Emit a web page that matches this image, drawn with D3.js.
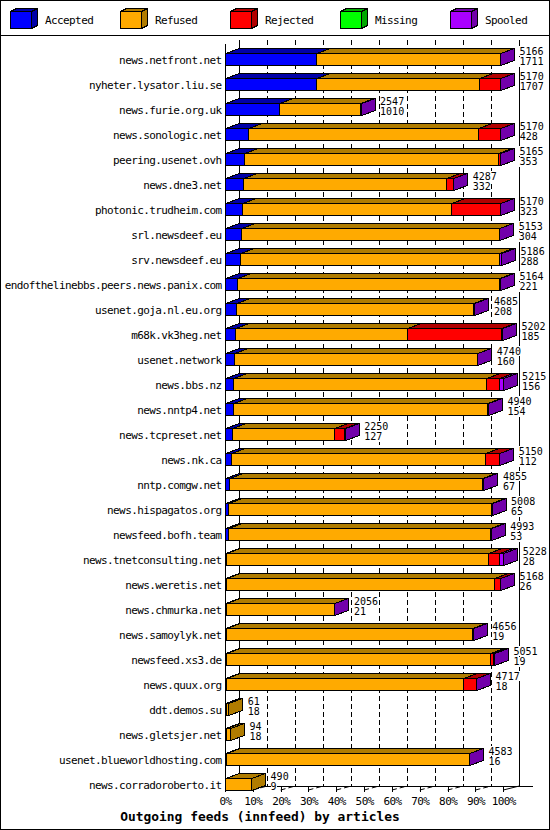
<!DOCTYPE html>
<html>
<head>
<meta charset="utf-8">
<script src="https://cdn.jsdelivr.net/npm/d3@7"></script>
<style>
  body { margin: 0; background: #fff; }
  text { font-family: "DejaVu Sans Mono", monospace; font-size: 11px; letter-spacing: -0.6px; fill: #000; }
  .val { font-size: 10px; letter-spacing: 0px; }
  .title { font-weight: bold; font-size: 12.9px; letter-spacing: 0px; }
</style>
</head>
<body>
<script>
// outgoing feeds, one row per peer (sorted by accepted)
var hosts = ["news.netfront.net", "nyheter.lysator.liu.se", "news.furie.org.uk", "news.sonologic.net",
  "peering.usenet.ovh", "news.dne3.net", "photonic.trudheim.com", "srl.newsdeef.eu", "srv.newsdeef.eu",
  "endofthelinebbs.peers.news.panix.com", "usenet.goja.nl.eu.org", "m68k.vk3heg.net", "usenet.network",
  "news.bbs.nz", "news.nntp4.net", "news.tcpreset.net", "news.nk.ca", "nntp.comgw.net",
  "news.hispagatos.org", "newsfeed.bofh.team", "news.tnetconsulting.net", "news.weretis.net",
  "news.chmurka.net", "news.samoylyk.net", "newsfeed.xs3.de", "news.quux.org", "ddt.demos.su",
  "news.gletsjer.net", "usenet.blueworldhosting.com", "news.corradoroberto.it"];
var totals   = [5166, 5170, 2547, 5170, 5165, 4287, 5170, 5153, 5186, 5164, 4685, 5202, 4740, 5215, 4940,
  2250, 5150, 4855, 5008, 4993, 5228, 5168, 2056, 4656, 5051, 4717, 61, 94, 4583, 490];
var accepted = [1711, 1707, 1010, 428, 353, 332, 323, 304, 288, 221, 208, 185, 160, 156, 154,
  127, 112, 67, 65, 53, 28, 26, 21, 19, 19, 18, 18, 18, 16, 9];
var refused  = [3447, 3065, 1531, 4334, 4769, 3822, 3929, 4841, 4858, 4935, 4454, 3237, 4572, 4746, 4766,
  1927, 4773, 4765, 4935, 4932, 4920, 5027, 2027, 4617, 4955, 4453, 43, 76, 4559, 481];
var rejected = [0, 390, 0, 400, 35, 125, 910, 0, 0, 0, 15, 1755, 0, 238, 12,
  188, 257, 15, 0, 0, 200, 107, 0, 12, 69, 238, 0, 0, 0, 0];
var missing  = [0, 0, 0, 0, 0, 0, 0, 0, 0, 0, 0, 0, 0, 0, 0,
  0, 0, 0, 0, 0, 0, 0, 0, 0, 0, 0, 0, 0, 0, 0];
var spooled  = [8, 8, 6, 8, 8, 8, 8, 8, 40, 8, 8, 25, 8, 75, 8,
  8, 8, 8, 8, 8, 80, 8, 8, 8, 8, 8, 0, 0, 8, 0];
var seriesNames = ["Accepted", "Refused", "Rejected", "Missing", "Spooled"];
var pctTicks = [0, 10, 20, 30, 40, 50, 60, 70, 80, 90, 100];
var titleText = "Outgoing feeds (innfeed) by articles";

var frontColor = {"Accepted": "#0000ff", "Refused": "#ffaa00", "Rejected": "#ff0000", "Missing": "#00ff00", "Spooled": "#aa00ff"};
var darkColor  = {"Accepted": "#0000a8", "Refused": "#b07c00", "Rejected": "#b00000", "Missing": "#00a800", "Spooled": "#7200aa"};

var W = 550, H = 830;
var DX = 14, DY = 5, FH = 12;   // 3d depth and front height
function px(v) { return Math.round(v) + 0.5; }

var svg = d3.select("body").append("svg")
        .attr("width", W)
        .attr("height", H)
        .attr("shape-rendering", "crispEdges");

svg.append("rect").attr("x", 0.5).attr("y", 0.5).attr("width", W - 1).attr("height", H - 1)
        .attr("fill", "#fff").attr("stroke", "#000");
svg.append("line").attr("x1", 0).attr("x2", W).attr("y1", 35.5).attr("y2", 35.5).attr("stroke", "#000");

// legend
var legend = svg.append("g").selectAll("g").data(seriesNames).enter().append("g")
        .attr("transform", function (d, i) { return "translate(" + (10 + i * 110) + ",11)"; });
legend.append("polygon")
        .attr("points", "0.5,0.5 6.5,-2.5 27.5,-2.5 21.5,0.5")
        .attr("fill", function (d) { return darkColor[d]; }).attr("stroke", "#000");
legend.append("polygon")
        .attr("points", "21.5,0.5 27.5,-2.5 27.5,14.5 21.5,17.5")
        .attr("fill", function (d) { return darkColor[d]; }).attr("stroke", "#000");
legend.append("rect").attr("x", 0.5).attr("y", 0.5).attr("width", 21).attr("height", 17)
        .attr("fill", function (d) { return frontColor[d]; }).attr("stroke", "#000");
legend.append("text").attr("x", 35).attr("y", 13).text(function (d) { return d; });

// scales
var xFront = d3.scaleLinear().domain([0, 100]).range([225, 503.3]);
var xBack = d3.scaleLinear().domain([0, 100]).range([239.3, 519.3]);
var xArt = d3.scaleLinear().domain([0, d3.max(totals)]).range([225, 503.3]);
var y = d3.scaleBand().domain(hosts).range([45.3, 795.3]);
function frontTop(h) { return y(h) + 8; }

var floorBack = 786, floorFront = 790, wallTop = 40;

// back wall grid
var grid = svg.append("g");
grid.selectAll("line.v").data(pctTicks).enter().append("line")
        .attr("x1", function (d) { return px(xBack(d)); })
        .attr("x2", function (d) { return px(xBack(d)); })
        .attr("y1", wallTop).attr("y2", floorBack)
        .attr("stroke", "#000")
        .attr("stroke-dasharray", function (d) { return (d === 0 || d === 100) ? null : "5,3"; });
grid.selectAll("line.f").data(pctTicks).enter().append("line")
        .attr("x1", function (d) { return xFront(d); })
        .attr("y1", floorFront)
        .attr("x2", function (d) { return xBack(d); })
        .attr("y2", floorBack)
        .attr("stroke", "#000")
        .attr("shape-rendering", "auto")
        .attr("stroke-dasharray", function (d) { return (d === 0 || d === 100) ? null : "5,3"; });
grid.append("line").attr("x1", 225).attr("x2", 533).attr("y1", floorBack + 0.5).attr("y2", floorBack + 0.5).attr("stroke", "#000");
grid.append("line").attr("x1", 225.5).attr("x2", 225.5).attr("y1", 44).attr("y2", floorFront).attr("stroke", "#000");

// x axis
var axis = svg.append("g").attr("transform", "translate(0," + floorBack + ")")
        .call(d3.axisBottom(xFront).tickValues(pctTicks)
                .tickFormat(function (d) { return d + "%"; })
                .tickSize(6).tickSizeOuter(0).tickPadding(5));
axis.select(".domain").remove();
axis.selectAll("line").attr("stroke", "#000");
axis.selectAll("text").attr("font-family", null).attr("font-size", null);

// bars
var rows = hosts.map(function (h, i) {
    return {"host": h, "Accepted": accepted[i], "Refused": refused[i], "Rejected": rejected[i],
        "Missing": missing[i], "Spooled": spooled[i]};
});
var stacked = d3.stack().keys(seriesNames)(rows);

stacked.forEach(function (layer) {
    var key = layer.key;
    var segs = svg.append("g").selectAll("g")
            .data(layer.filter(function (d) { return d[1] - d[0] > 0; }))
            .enter().append("g");
    segs.append("polygon").attr("points", function (d) {
        var x0 = px(xArt(d[0])), x1 = px(xArt(d[1])), t = px(frontTop(d.data.host));
        return [[x0, t], [x0 + DX, t - DY], [x1 + DX, t - DY], [x1, t]].join(" ");
    }).attr("fill", darkColor[key]).attr("stroke", "#000");
    segs.append("polygon").attr("points", function (d) {
        var x1 = px(xArt(d[1])), t = px(frontTop(d.data.host));
        return [[x1, t], [x1 + DX, t - DY], [x1 + DX, t + FH - DY], [x1, t + FH]].join(" ");
    }).attr("fill", darkColor[key]).attr("stroke", "#000");
    segs.append("rect")
            .attr("x", function (d) { return px(xArt(d[0])); })
            .attr("y", function (d) { return px(frontTop(d.data.host)); })
            .attr("width", function (d) { return px(xArt(d[1])) - px(xArt(d[0])); })
            .attr("height", FH)
            .attr("fill", frontColor[key]).attr("stroke", "#000");
});

// host labels
svg.append("g").selectAll("text").data(hosts).enter().append("text")
        .attr("x", 221.5)
        .attr("y", function (d) { return frontTop(d) + 10.5; })
        .attr("text-anchor", "end")
        .text(function (d) { return d; });

// value labels at the end of each bar
var vals = svg.append("g").selectAll("g").data(hosts).enter().append("g")
        .attr("transform", function (d, i) {
            return "translate(" + (xArt(totals[i]) + 19.5) + "," + frontTop(d) + ")";
        });
[0, 1].forEach(function (line) {
    var lineText = function (d, i) { return String(line === 0 ? totals[i] : accepted[i]); };
    vals.append("rect")
            .attr("x", 0).attr("y", line * 11 - 7)
            .attr("width", function (d, i) { return lineText(d, i).length * 6; })
            .attr("height", 10).attr("fill", "#fff");
    vals.append("text").attr("class", "val")
            .attr("x", 0).attr("y", line * 11 + 1.2)
            .text(lineText);
});

svg.append("text").attr("class", "title")
        .attr("x", 260).attr("y", 821)
        .attr("text-anchor", "middle")
        .text(titleText);
</script>
</body>
</html>
